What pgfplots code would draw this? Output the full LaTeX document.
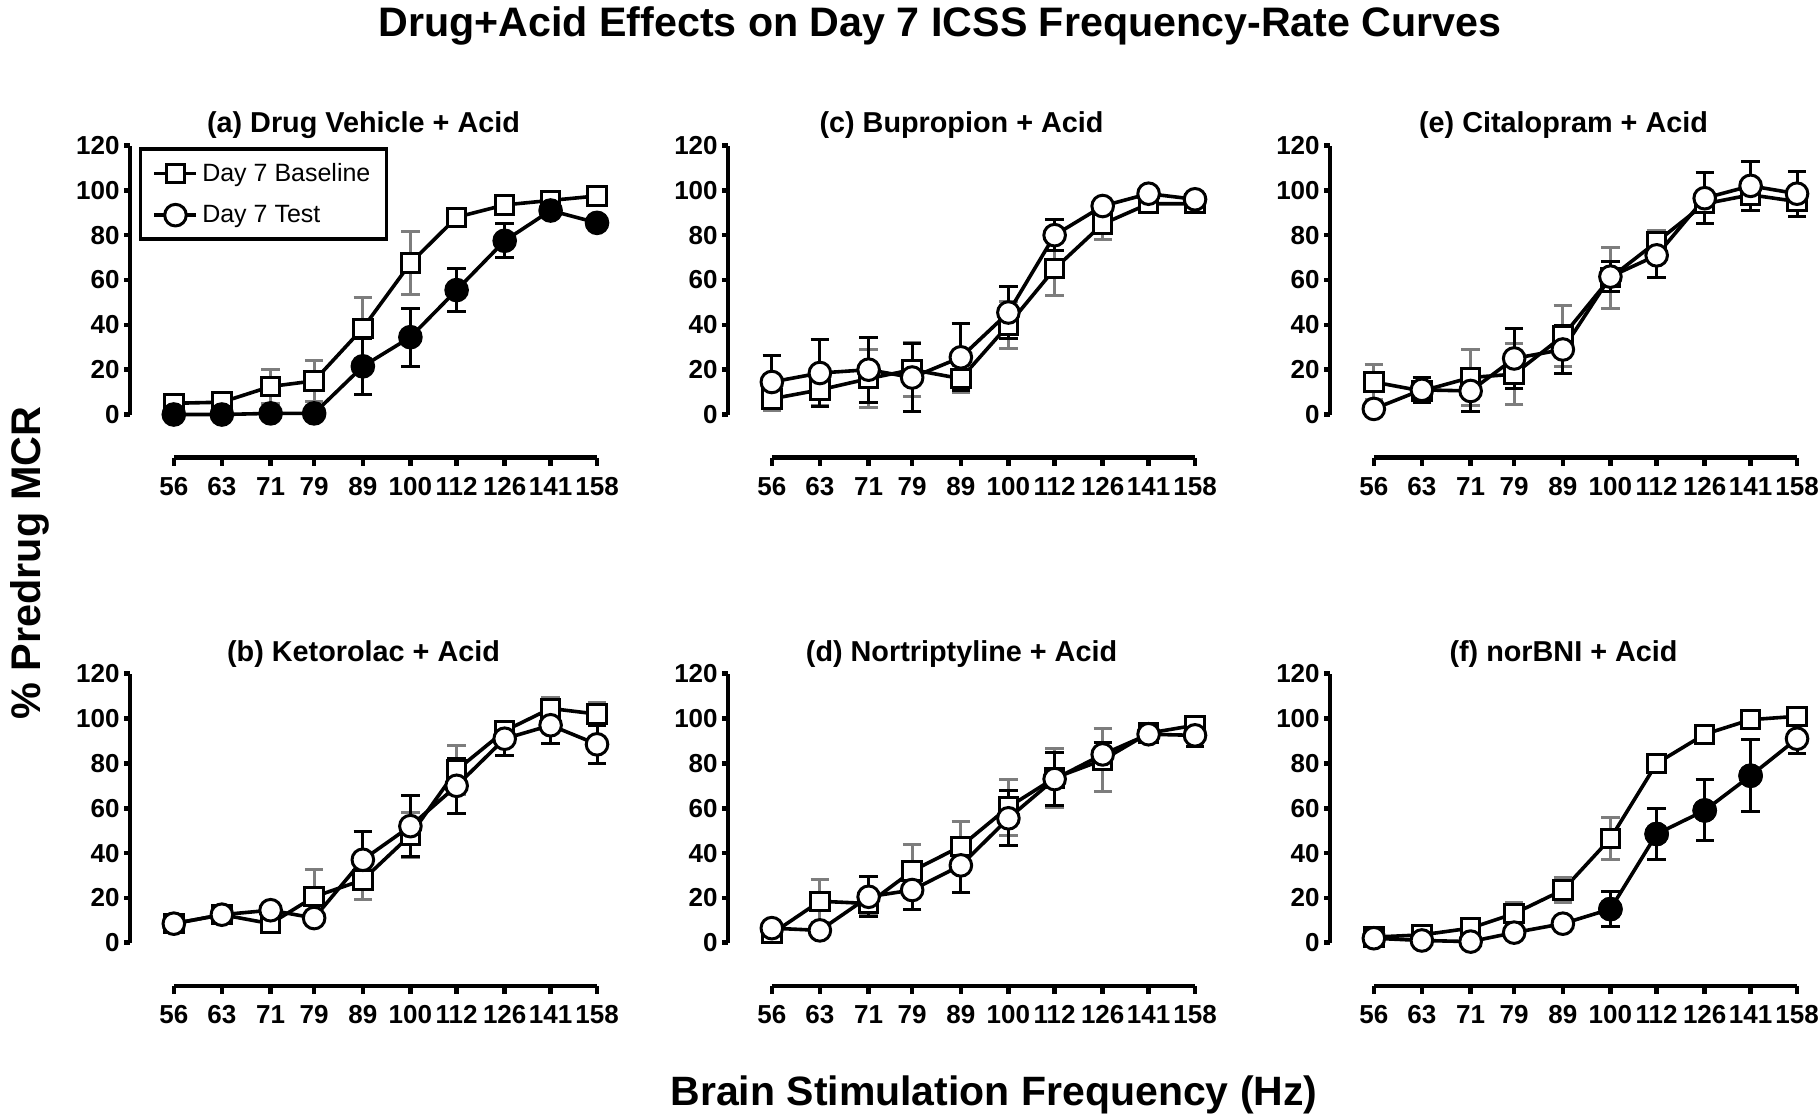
\documentclass[border=0pt]{standalone}
\usepackage{fontspec}
\setmainfont{Liberation Sans}
\usepackage{pgfplots}
\pgfplotsset{compat=1.18}
\definecolor{ebgray}{RGB}{125,125,125}
\newcommand{\ticklabfont}{\bfseries\fontsize{13}{15}\selectfont}
\pgfplotsset{
  PanelAx/.style={scale only axis, xmin=50.3, xmax=158, ymin=0, ymax=120,
    width=233.5pt, height=134.5pt, anchor=south west,
    axis x line=none, axis y line*=left, xtick=\empty,
    ytick={0,20,40,60,80,100,120}, yticklabels={0,20,40,60,80,100,120},
    tick align=outside, major tick length=3pt,
    axis line style={line width=2.3pt}, every tick/.style={line width=2.3pt, black},
    yticklabel style={font=\ticklabfont, inner xsep=2pt},
    clip=false,
    title style={at={(0.5,1)}, anchor=base, yshift=0.3pt, font=\bfseries\fontsize{14.4}{16}\selectfont}},
  XOnlyAx/.style={scale only axis, xmin=56, xmax=158, ymin=0, ymax=1,
    width=211.6pt, height=1pt, anchor=south west,
    axis y line=none, axis x line*=bottom, ytick=\empty,
    xtick={56,63,71,79,89,100,112,126,141,158},
    xticklabels={56,63,71,79,89,100,112,126,141,158},
    tick align=outside, major tick length=4pt,
    axis line style={line width=2.3pt}, every tick/.style={line width=2.3pt, black},
    xticklabel style={font=\ticklabfont, yshift=-2.3pt}},
  BaseSer/.style={black, line width=1.8pt, mark=square*, mark size=4.6pt,
    mark options={fill=white, line width=1.5pt, solid},
    error bars/y dir=both, error bars/y explicit,
    error bars/error bar style={ebgray, line width=1.5pt},
    error bars/error mark options={ebgray, line width=1.5pt, mark size=4.6pt, rotate=90}},
  TestSer/.style={black, line width=1.8pt, mark=*, mark size=5.4pt,
    mark options={fill=white, line width=1.5pt, solid},
    error bars/y dir=both, error bars/y explicit,
    error bars/error bar style={black, line width=1.5pt},
    error bars/error mark options={black, line width=1.5pt, mark size=4.6pt, rotate=90}},
  TestFill/.style={only marks, mark=*, mark size=5.4pt,
    mark options={fill=black, draw=black, line width=1.5pt}},
  LegLong/.style={legend image code/.code={\draw[mark repeat=2, mark phase=2, ##1] plot coordinates {(0pt,0pt) (10.5pt,0pt) (21pt,0pt)};}},
}
\begin{document}
\begin{tikzpicture}
\useasboundingbox (0pt,0pt) rectangle (909pt,-559.5pt);

% ---------------- (a)
\begin{axis}[xmode=log, PanelAx, at={(65pt,-207.25pt)}, title={(a) Drug Vehicle + Acid}, LegLong,
  legend style={at={(0.019,0.994)}, anchor=north west, draw=black, line width=1.8pt,
    font=\fontsize{12.5}{15}\selectfont, cells={anchor=west}, row sep=6.5pt,
    inner xsep=6pt, inner ysep=5pt}]
\addlegendimage{black, line width=1.8pt, mark=square*, mark size=4.6pt, mark options={fill=white, line width=1.5pt}}
\addlegendentry{Day 7 Baseline}
\addlegendimage{black, line width=1.8pt, mark=*, mark size=5.4pt, mark options={fill=white, line width=1.5pt}}
\addlegendentry{Day 7 Test}
\addplot[BaseSer, forget plot] coordinates {(56,5) +- (0,1) (63,5.5) +- (0,1) (71,12.5) +- (0,7.5) (79,15) +- (0,9) (89,38.5) +- (0,13.5) (100,67.5) +- (0,14) (112,88) +- (0,2) (126,93.5) +- (0,2) (141,95.5) +- (0,2) (158,97.5) +- (0,2)};
\addplot[TestSer, forget plot, mark options={fill=black, line width=1.5pt}] coordinates {(56,0) +- (0,0.5) (63,0) +- (0,0.5) (71,0.5) +- (0,0.5) (79,0.5) +- (0,0.5) (89,21.5) +- (0,12.5) (100,34.5) +- (0,13) (112,55.5) +- (0,9.5) (126,77.5) +- (0,7.5) (141,91) +- (0,2) (158,85.5) +- (0,3)};
\end{axis}
\begin{axis}[xmode=log, XOnlyAx, at={(86.9pt,-228.75pt)}]\end{axis}

% ---------------- (c)
\begin{axis}[xmode=log, PanelAx, at={(364pt,-207.25pt)}, title={(c) Bupropion + Acid}]
\addplot[BaseSer] coordinates {(56,7) +- (0,5) (63,11) +- (0,7) (71,16) +- (0,13) (79,20) +- (0,12) (89,16) +- (0,6) (100,40) +- (0,10.5) (112,65) +- (0,12) (126,85) +- (0,7) (141,94) +- (0,2) (158,94) +- (0,2)};
\addplot[TestSer] coordinates {(56,14.5) +- (0,12) (63,18.5) +- (0,15) (71,20) +- (0,14.5) (79,16.5) +- (0,15) (89,25.5) +- (0,15) (100,45.5) +- (0,11.5) (112,80) +- (0,7) (126,93) +- (0,2) (141,98.5) +- (0,2) (158,96) +- (0,2)};
\end{axis}
\begin{axis}[xmode=log, XOnlyAx, at={(385.9pt,-228.75pt)}]\end{axis}

% ---------------- (e)
\begin{axis}[xmode=log, PanelAx, at={(665pt,-207.25pt)}, title={(e) Citalopram + Acid}]
\addplot[BaseSer] coordinates {(56,14.5) +- (0,8) (63,10.5) +- (0,4) (71,16.5) +- (0,12.5) (79,18) +- (0,13.5) (89,35) +- (0,13.5) (100,61) +- (0,13.5) (112,77) +- (0,5) (126,94) +- (0,4) (141,98) +- (0,4) (158,95) +- (0,4)};
\addplot[TestSer] coordinates {(56,2.5) +- (0,1) (63,11) +- (0,5.5) (71,10.5) +- (0,9) (79,25) +- (0,13.5) (89,29) +- (0,10.5) (100,61.5) +- (0,6.8) (112,71) +- (0,10) (126,96.5) +- (0,11.5) (141,102) +- (0,11) (158,98.5) +- (0,10)};
\end{axis}
\begin{axis}[xmode=log, XOnlyAx, at={(686.9pt,-228.75pt)}]\end{axis}

% ---------------- (b)
\begin{axis}[xmode=log, PanelAx, at={(65pt,-471.35pt)}, title={(b) Ketorolac + Acid}]
\addplot[BaseSer] coordinates {(56,8.5) +- (0,1) (63,12.5) +- (0,1) (71,8.5) +- (0,4) (79,20.5) +- (0,12) (89,28) +- (0,8.5) (100,48) +- (0,10) (112,77) +- (0,11) (126,94.5) +- (0,4) (141,104.5) +- (0,5) (158,102) +- (0,5)};
\addplot[TestSer] coordinates {(56,8.5) +- (0,1) (63,12.5) +- (0,1) (71,14.5) +- (0,1) (79,11) +- (0,1) (89,37) +- (0,12.6) (100,52) +- (0,13.6) (112,70) +- (0,12.4) (126,91) +- (0,7.4) (141,97) +- (0,8.2) (158,88.5) +- (0,8.5)};
\end{axis}
\begin{axis}[xmode=log, XOnlyAx, at={(86.9pt,-493pt)}]\end{axis}

% ---------------- (d)
\begin{axis}[xmode=log, PanelAx, at={(364pt,-471.35pt)}, title={(d) Nortriptyline + Acid}]
\addplot[BaseSer] coordinates {(56,4) +- (0,2) (63,18.5) +- (0,9.5) (71,17.5) +- (0,5) (79,32) +- (0,12) (89,43) +- (0,11) (100,60.5) +- (0,12.5) (112,73.5) +- (0,13.3) (126,81.5) +- (0,13.9) (141,93.5) +- (0,3) (158,97) +- (0,4)};
\addplot[TestSer] coordinates {(56,6.5) +- (0,1) (63,5.5) +- (0,1) (71,20.5) +- (0,9) (79,23.5) +- (0,8.5) (89,34.5) +- (0,12.3) (100,55.5) +- (0,12.2) (112,73) +- (0,12) (126,84) +- (0,5.5) (141,93) +- (0,2) (158,92.5) +- (0,5)};
\end{axis}
\begin{axis}[xmode=log, XOnlyAx, at={(385.9pt,-493pt)}]\end{axis}

% ---------------- (f)
\begin{axis}[xmode=log, PanelAx, at={(665pt,-471.35pt)}, title={(f) norBNI + Acid}]
\addplot[BaseSer] coordinates {(56,2.5) +- (0,1) (63,3.5) +- (0,1) (71,6.5) +- (0,1) (79,13) +- (0,5) (89,23.5) +- (0,5.5) (100,46.5) +- (0,9.5) (112,80) +- (0,2) (126,93) +- (0,1) (141,99.5) +- (0,1) (158,101) +- (0,1)};
\addplot[TestSer] coordinates {(56,2) +- (0,1) (63,1) +- (0,1) (71,0.5) +- (0,1) (79,4.5) +- (0,1) (89,8.5) +- (0,1) (100,15) +- (0,7.8) (112,48.5) +- (0,11.2) (126,59) +- (0,13.6) (141,74.5) +- (0,16) (158,91) +- (0,6.5)};
\addplot[TestFill] coordinates {(100,15) (112,48.5) (126,59) (141,74.5)};
\end{axis}
\begin{axis}[xmode=log, XOnlyAx, at={(686.9pt,-493pt)}]\end{axis}

% ---------------- overall labels
\node[anchor=base, font=\bfseries\fontsize{20.6}{24}\selectfont] at (470pt,-18pt) {Drug+Acid Effects on Day 7 ICSS Frequency-Rate Curves};
\node[anchor=base, rotate=90, font=\bfseries\fontsize{20.7}{24}\selectfont] at (20pt,-281.5pt) {\% Predrug MCR};
\node[anchor=base, font=\bfseries\fontsize{20.5}{24}\selectfont] at (497pt,-552.5pt) {Brain Stimulation Frequency (Hz)};
\end{tikzpicture}
\end{document}
